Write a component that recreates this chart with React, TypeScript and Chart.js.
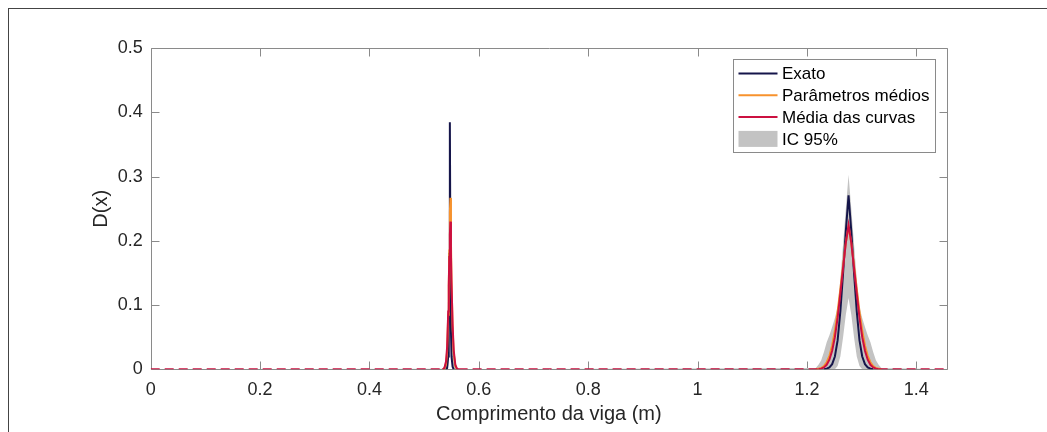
import React, { useEffect, useRef } from "react";
import { Chart, registerables } from "chart.js";

Chart.register(...registerables);

// Positions along the beam (m)
const xPositions = [
  0,
  0.534, 0.537, 0.540, 0.542, 0.544, 0.545, 0.546, 0.547, 0.548, 0.549, 0.550, 0.552, 0.554, 0.557, 0.560, 0.563,
  1.216, 1.221, 1.226, 1.231, 1.236, 1.241, 1.246, 1.251, 1.256, 1.261, 1.266, 1.271, 1.276,
  1.281, 1.286, 1.291, 1.296, 1.301, 1.306, 1.311, 1.316, 1.321, 1.326, 1.331, 1.336,
  1.456,
];

const exato = [
  0,
  0, 0, 0, 0.002, 0.02, 0.06, 0.18, 0.385, 0.18, 0.06, 0.02, 0.004, 0, 0, 0, 0,
  0, 0, 0, 0, 0.001, 0.003, 0.008, 0.02, 0.045, 0.09, 0.15, 0.215, 0.271,
  0.215, 0.15, 0.09, 0.045, 0.02, 0.008, 0.003, 0.001, 0, 0, 0, 0,
  0,
];

const parametrosMedios = [
  0,
  0, 0.001, 0.008, 0.028, 0.085, 0.13, 0.185, 0.245, 0.267, 0.2, 0.14, 0.065, 0.025, 0.005, 0, 0,
  0, 0.001, 0.002, 0.005, 0.011, 0.021, 0.037, 0.06, 0.09, 0.125, 0.162, 0.197, 0.222,
  0.197, 0.162, 0.125, 0.09, 0.06, 0.037, 0.021, 0.011, 0.005, 0.002, 0.001, 0,
  0,
];

const mediaCurvas = [
  0,
  0, 0.002, 0.012, 0.035, 0.09, 0.13, 0.175, 0.21, 0.23, 0.18, 0.135, 0.07, 0.03, 0.007, 0.001, 0,
  0, 0, 0.001, 0.003, 0.007, 0.015, 0.029, 0.05, 0.08, 0.118, 0.158, 0.197, 0.225,
  0.197, 0.158, 0.118, 0.08, 0.05, 0.029, 0.015, 0.007, 0.003, 0.001, 0, 0,
  0,
];

const icSuperior = [
  0,
  0.001, 0.006, 0.02, 0.05, 0.11, 0.15, 0.2, 0.245, 0.25, 0.2, 0.155, 0.09, 0.04, 0.012, 0.003, 0,
  0.002, 0.007, 0.014, 0.027, 0.042, 0.053, 0.066, 0.08, 0.097, 0.14, 0.195, 0.25, 0.303,
  0.25, 0.195, 0.14, 0.097, 0.08, 0.066, 0.053, 0.042, 0.027, 0.014, 0.007, 0.002,
  0,
];

const icInferior = [
  0,
  0, 0, 0, 0, 0.005, 0.02, 0.05, 0.08, 0.09, 0.06, 0.03, 0.008, 0, 0, 0, 0,
  0, 0, 0, 0, 0, 0, 0, 0, 0.005, 0.02, 0.05, 0.085, 0.111,
  0.085, 0.05, 0.02, 0.005, 0, 0, 0, 0, 0, 0, 0, 0,
  0,
];

const seriesLabels = ["Exato", "Parâmetros médios", "Média das curvas", "IC 95%"];
const xAxisTitle = "Comprimento da viga (m)";
const yAxisTitle = "D(x)";
const xMin = 0;
const xMax = 1.456;
const xStep = 0.2;
const yMin = 0;
const yMax = 0.5;
const yStep = 0.1;

const NAVY = "#15154a";
const ORANGE = "#f7922d";
const RED = "#cc1040";
const GREY = "#c3c3c3";
const AXIS = "#8a8a8a";
const TEXT = "#262626";
const FONT = "'Liberation Sans', Arial, Helvetica, sans-serif";

const fmt = (v: number) => String(Number(v.toFixed(3)));

export default function App() {
  const ref = useRef<HTMLCanvasElement>(null);

  useEffect(() => {
    if (!ref.current) return;
    const pts = (ys: number[]) => xPositions.map((x, i) => ({ x, y: ys[i] }));
    const zeroSeg = (c: any) => c.p0.parsed.y === 0 && c.p1.parsed.y === 0;

    const boxPlugin = {
      id: "matlabBox",
      beforeDatasetsDraw(chart: any) {
        const { ctx, chartArea } = chart;
        const { left, right, top, bottom } = chartArea;
        ctx.save();
        ctx.strokeStyle = AXIS;
        ctx.lineWidth = 1;
        ctx.beginPath();
        const L = Math.round(left) + 0.5;
        const R = Math.round(right) + 0.5;
        const T = Math.round(top) + 0.5;
        const B = Math.round(bottom) + 0.5;
        ctx.rect(L, T, R - L, B - T);
        const tl = 8;
        const xs = chart.scales.x;
        xs.ticks.forEach((t: any) => {
          const px = Math.round(xs.getPixelForValue(t.value)) + 0.5;
          ctx.moveTo(px, B);
          ctx.lineTo(px, B - tl);
          ctx.moveTo(px, T);
          ctx.lineTo(px, T + tl);
        });
        const ys = chart.scales.y;
        ys.ticks.forEach((t: any) => {
          const py = Math.round(ys.getPixelForValue(t.value)) + 0.5;
          ctx.moveTo(L, py);
          ctx.lineTo(L + tl, py);
          ctx.moveTo(R, py);
          ctx.lineTo(R - tl, py);
        });
        ctx.stroke();
        ctx.restore();
      },
    };

    const legendPlugin = {
      id: "insideLegend",
      afterDraw(chart: any) {
        const { ctx, chartArea } = chart;
        const bx = Math.round(chartArea.right - 214) + 0.5;
        const by = Math.round(chartArea.top + 10.7) + 0.5;
        const bw = 202;
        const bh = 93;
        ctx.save();
        ctx.fillStyle = "#ffffff";
        ctx.fillRect(bx, by, bw, bh);
        ctx.strokeStyle = AXIS;
        ctx.lineWidth = 1;
        ctx.strokeRect(bx, by, bw, bh);
        const colors = [NAVY, ORANGE, RED];
        ctx.font = `17px ${FONT}`;
        ctx.textBaseline = "middle";
        ctx.textAlign = "left";
        seriesLabels.forEach((lab, i) => {
          const cy = by + 14 + i * 21.8;
          if (i < 3) {
            ctx.strokeStyle = colors[i];
            ctx.lineWidth = 2;
            ctx.beginPath();
            ctx.moveTo(bx + 5, cy);
            ctx.lineTo(bx + 44, cy);
            ctx.stroke();
          } else {
            ctx.fillStyle = GREY;
            ctx.fillRect(bx + 5, cy - 8, 39, 16);
          }
          ctx.fillStyle = "#000000";
          ctx.fillText(lab, bx + 48.5, cy + 1);
        });
        ctx.restore();
      },
    };

    const chart = new Chart(ref.current, {
      type: "line",
      data: {
        datasets: [
          {
            label: seriesLabels[0],
            data: pts(exato),
            borderColor: NAVY,
            borderWidth: 2,
            pointRadius: 0,
            fill: false,
            order: 2,
            segment: { borderColor: (c: any) => (zeroSeg(c) ? "rgba(0,0,0,0)" : undefined) },
          },
          {
            label: seriesLabels[1],
            data: pts(parametrosMedios),
            borderColor: ORANGE,
            borderWidth: 2,
            pointRadius: 0,
            fill: false,
            order: 1,
            segment: { borderColor: (c: any) => (zeroSeg(c) ? "rgba(0,0,0,0)" : undefined) },
          },
          {
            label: seriesLabels[2],
            data: pts(mediaCurvas),
            borderColor: RED,
            borderWidth: 2,
            pointRadius: 0,
            fill: false,
            order: 0,
            segment: { borderDash: (c: any) => (zeroSeg(c) ? [9, 5] : undefined) },
          },
          {
            label: seriesLabels[3],
            data: pts(icSuperior),
            borderWidth: 0,
            borderColor: "rgba(0,0,0,0)",
            backgroundColor: GREY,
            pointRadius: 0,
            fill: "+1",
            order: 3,
          },
          {
            label: "IC inferior",
            data: pts(icInferior),
            borderWidth: 0,
            borderColor: "rgba(0,0,0,0)",
            pointRadius: 0,
            fill: false,
            order: 4,
          },
        ],
      },
      options: {
        animation: false,
        responsive: false,
        events: [],
        layout: { padding: { left: 76, right: 100, top: 39.3, bottom: 0 } },
        plugins: {
          legend: { display: false },
          tooltip: { enabled: false },
        },
        scales: {
          x: {
            type: "linear",
            min: xMin,
            max: xMax,
            afterFit: (s: any) => {
              s.height = 62.7;
            },
            grid: { display: false, drawTicks: false },
            border: { display: false },
            ticks: {
              stepSize: xStep,
              includeBounds: false,
              padding: 10,
              color: TEXT,
              font: { size: 18, family: FONT },
              maxRotation: 0,
              autoSkip: false,
              callback: (v: any) => fmt(Number(v)),
            },
            title: {
              display: true,
              text: xAxisTitle,
              color: TEXT,
              font: { size: 20, family: FONT },
              padding: { top: 4, bottom: 6 },
            },
          },
          y: {
            type: "linear",
            min: yMin,
            max: yMax,
            afterFit: (s: any) => {
              s.width = 65.7;
            },
            grid: { display: false, drawTicks: false },
            border: { display: false },
            ticks: {
              stepSize: yStep,
              includeBounds: false,
              padding: 8,
              color: TEXT,
              font: { size: 18, family: FONT },
              callback: (v: any) => fmt(Number(v)),
            },
            title: {
              display: true,
              text: yAxisTitle,
              color: TEXT,
              font: { size: 20, family: FONT },
              padding: { top: 4, bottom: 4 },
            },
          },
        },
      },
      plugins: [boxPlugin, legendPlugin],
    } as any);

    return () => chart.destroy();
  }, []);

  return (
    <div
      style={{
        position: "fixed",
        left: 8,
        top: 8,
        width: 1039,
        height: 424,
        borderLeft: "1px solid #444",
        borderTop: "1px solid #444",
        background: "#fff",
      }}
    >
      <canvas ref={ref} width={1038} height={423} style={{ display: "block", width: 1038, height: 423 }} />
    </div>
  );
}
